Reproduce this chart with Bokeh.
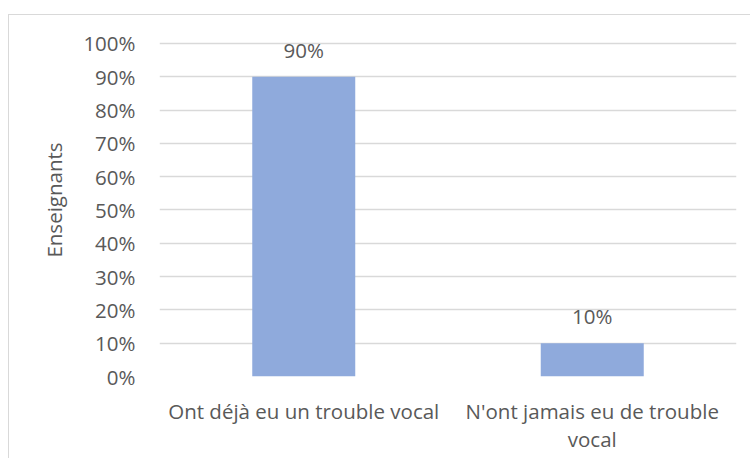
from bokeh.plotting import figure
from bokeh.layouts import column, row
from bokeh.models import (ColumnDataSource, FactorRange, Range1d, LabelSet,
                          NumeralTickFormatter, FixedTicker, Spacer)
from bokeh.core.properties import value
from bokeh.embed import file_html
from bokeh.resources import INLINE

categories = ["Ont déjà eu un trouble vocal", "N'ont jamais eu de trouble\nvocal"]
values = [0.90, 0.10]
value_labels = ["90%", "10%"]
y_ticks = [0, 0.1, 0.2, 0.3, 0.4, 0.5, 0.6, 0.7, 0.8, 0.9, 1.0]

FONT = "Open Sans"
TXT = "#595959"
FS = "20.5px"

src = ColumnDataSource(dict(cat=categories, val=values, lab=value_labels))

p = figure(x_range=FactorRange(*categories, range_padding=0), y_range=Range1d(0, 1.06),
           width=742, height=444, output_backend="svg", toolbar_location=None,
           min_border_left=150, min_border_right=15, min_border_top=8, min_border_bottom=83)
p.styles = {"border-top": "1px solid #D9D9D9", "border-left": "1px solid #D9D9D9"}
p.outline_line_color = None

p.vbar(x="cat", top="val", width=0.357, source=src, fill_color="#8FAADC", line_color=None)

labels = LabelSet(x="cat", y="val", text="lab", source=src, text_align="center",
                  text_baseline="bottom", y_offset=13, text_font=value(FONT),
                  text_font_size=value(FS), text_color=TXT)
p.add_layout(labels)

p.yaxis.ticker = FixedTicker(ticks=y_ticks)
p.yaxis.formatter = NumeralTickFormatter(format="0%")
p.yaxis.axis_line_color = None
p.yaxis.major_tick_line_color = None
p.yaxis.minor_tick_line_color = None
p.yaxis.major_label_text_font = FONT
p.yaxis.major_label_text_font_size = FS
p.yaxis.major_label_text_color = TXT
p.yaxis.major_label_standoff = 18
p.yaxis.axis_label = "Enseignants"
p.yaxis.axis_label_text_font = FONT
p.yaxis.axis_label_text_font_size = FS
p.yaxis.axis_label_text_font_style = "normal"
p.yaxis.axis_label_text_color = TXT
p.yaxis.axis_label_standoff = 12

p.xaxis.axis_line_color = None
p.xaxis.major_tick_line_color = None
p.xaxis.major_label_text_font = FONT
p.xaxis.major_label_text_font_size = FS
p.xaxis.major_label_text_color = TXT
p.xaxis.major_label_text_line_height = 1.0
p.xaxis.major_label_standoff = 14

p.xgrid.grid_line_color = None
p.ygrid.grid_line_color = "#D9D9D9"
p.ygrid.grid_line_width = 1.5

layout = row(Spacer(width=8), column(Spacer(height=14), p))
open("out.html", "w").write(file_html(layout, INLINE))
